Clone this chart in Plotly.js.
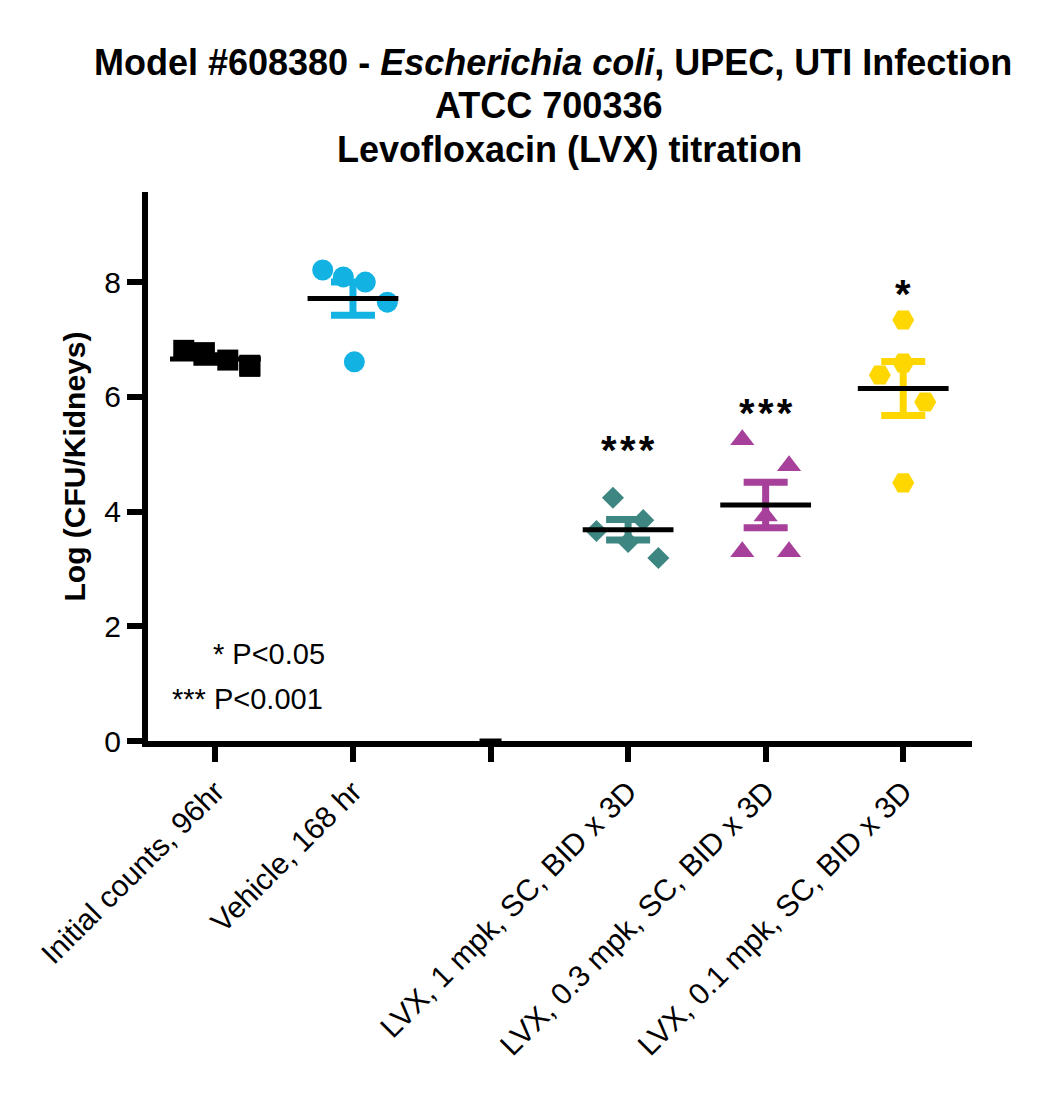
<!DOCTYPE html>
<html>
<head>
<meta charset="utf-8">
<script src="https://cdn.plot.ly/plotly-3.0.1.min.js"></script>
<style>
  html, body { margin: 0; padding: 0; background: #fff; }
  #chart { width: 1050px; height: 1093px; }
</style>
</head>
<body>
<div id="chart"></div>
<script>
// categories (index 2 is an empty gap group)
const categories = [
  'Initial counts, 96hr',
  'Vehicle, 168 hr',
  '',
  'LVX, 1 mpk, SC, BID x 3D',
  'LVX, 0.3 mpk, SC, BID x 3D',
  'LVX, 0.1 mpk, SC, BID x 3D'
];

// log CFU / kidneys per animal
const initialVals = [6.81, 6.77, 6.64, 6.55, 6.53];
const vehicleVals = [8.21, 8.09, 8.00, 7.65, 6.61];
const emptyVals   = [];
const lvx1Vals    = [4.24, 3.66, 3.85, 3.47, 3.19];
const lvx03Vals   = [5.25, 4.80, 3.92, 3.30, 3.30];
const lvx01Vals   = [7.34, 6.59, 6.38, 5.91, 4.50];

// horizontal scatter of points within each column (category units)
const jitterInitial = [-0.23, -0.08, 0.09, 0.25, 0.25];
const jitterVehicle = [-0.22, -0.07, 0.09, 0.25, 0.01];
const jitterLvx1    = [-0.11, -0.23, 0.11, 0.0, 0.22];
const jitterLvx03   = [-0.17, 0.17, 0.0, -0.17, 0.17];
const jitterLvx01   = [0.0, 0.0, -0.17, 0.16, 0.0];

// significance marks
const sigLabels = ['', '', '', '***', '***', '*'];
const sigY      = [null, null, null, 5.07, 5.72, 7.8];

const yTicks = [0, 2, 4, 6, 8];

const FONT = 'Arial, "Liberation Sans", Helvetica, sans-serif';

const groups = [
  { vals: initialVals, jit: jitterInitial, color: '#000000', symbol: 'square', size: 21 },
  { vals: vehicleVals, jit: jitterVehicle, color: '#12B2E3', symbol: 'circle', size: 21 },
  { vals: emptyVals,   jit: [],            color: '#000000', symbol: 'circle', size: 20 },
  { vals: lvx1Vals,    jit: jitterLvx1,    color: '#3E8681', symbol: 'diamond', size: 17 },
  { vals: lvx03Vals,   jit: jitterLvx03,   color: '#A6409B', symbol: 'triangle-up', size: 21 },
  { vals: lvx01Vals,   jit: jitterLvx01,   color: '#FFD700', symbol: 'hexagon2', size: 22 }
];

function mean(a) {
  if (!a.length) return 0;
  return a.reduce((s, v) => s + v, 0) / a.length;
}

function sem(a) {
  if (a.length < 2) return 0;
  const m = mean(a);
  const sd = Math.sqrt(a.reduce((s, v) => s + (v - m) * (v - m), 0) / (a.length - 1));
  return sd / Math.sqrt(a.length);
}

const traces = [];

// points
groups.forEach((g, i) => {
  if (!g.vals.length) return;
  traces.push({
    type: 'scatter',
    mode: 'markers',
    x: g.vals.map((v, k) => i + g.jit[k]),
    y: g.vals,
    marker: { symbol: g.symbol, size: g.size, color: g.color, line: { width: 0 } },
    hoverinfo: 'y',
    showlegend: false
  });
});

// SEM bars
groups.forEach((g, i) => {
  if (g.vals.length < 2) return;
  traces.push({
    type: 'scatter',
    mode: 'markers',
    x: [i],
    y: [mean(g.vals)],
    marker: { size: 1, color: 'rgba(0,0,0,0)' },
    error_y: { type: 'data', array: [sem(g.vals)], visible: true, color: g.color, thickness: 7, width: 22 },
    hoverinfo: 'skip',
    showlegend: false
  });
});

// mean lines
groups.forEach((g, i) => {
  const half = g.vals.length ? 0.33 : 0.08;
  const m = mean(g.vals);
  traces.push({
    type: 'scatter',
    mode: 'lines',
    x: [i - half, i + half],
    y: [m, m],
    line: { color: '#000', width: 5 },
    hoverinfo: 'skip',
    showlegend: false
  });
});

const annotations = [];

// title lines
const titleLines = [
  '<b>Model #608380 - <i>Escherichia coli</i>, UPEC, UTI Infection</b>',
  '<b>ATCC 700336</b>',
  '<b>Levofloxacin (LVX) titration</b>'
];
const titleX = [553, 548, 569];
const titleY = [63, 105, 150];
titleLines.forEach((t, k) => {
  annotations.push({
    text: t, xref: 'paper', yref: 'paper', showarrow: false,
    x: (titleX[k] - 148) / 824, y: 1 + (192 - titleY[k]) / 549,
    xanchor: 'center', yanchor: 'middle',
    font: { family: FONT, size: 36, color: '#000' }
  });
});

// significance stars
sigLabels.forEach((s, i) => {
  if (!s) return;
  annotations.push({
    text: '<b>' + s.split('').join('\u200A') + '</b>', x: i, y: sigY[i], xref: 'x', yref: 'y',
    showarrow: false, xanchor: 'center', yanchor: 'middle',
    font: { family: FONT, size: 40, color: '#000' }
  });
});

// p-value key
annotations.push({
  text: '* P<0.05', xref: 'paper', yref: 'paper', showarrow: false,
  x: (327 - 148) / 824, y: (741 - 654) / 549, xanchor: 'right', yanchor: 'middle',
  font: { family: FONT, size: 29, color: '#000' }
});
annotations.push({
  text: '*** P<0.001', xref: 'paper', yref: 'paper', showarrow: false,
  x: (325 - 148) / 824, y: (741 - 699) / 549, xanchor: 'right', yanchor: 'middle',
  font: { family: FONT, size: 29, color: '#000' }
});

const layout = {
  width: 1050,
  height: 1093,
  paper_bgcolor: '#fff',
  plot_bgcolor: '#fff',
  margin: { l: 148, r: 78, t: 192, b: 352 },
  font: { family: FONT, color: '#000' },
  showlegend: false,
  xaxis: {
    range: [-0.49, 5.5],
    tickmode: 'array',
    tickvals: categories.map((c, i) => i),
    ticktext: categories,
    tickangle: -45,
    tickfont: { family: FONT, size: 30, color: '#000' },
    ticks: 'outside',
    ticklen: 15,
    tickwidth: 6,
    tickcolor: '#000',
    showline: true,
    linewidth: 6,
    linecolor: '#000',
    showgrid: false,
    zeroline: false,
    automargin: false
  },
  yaxis: {
    range: [0, 9.57],
    tickmode: 'array',
    tickvals: yTicks,
    ticktext: yTicks.map(String),
    tickfont: { family: FONT, size: 30, color: '#000' },
    ticks: 'outside',
    ticklen: 15,
    tickwidth: 6,
    tickcolor: '#000',
    showline: true,
    linewidth: 6,
    linecolor: '#000',
    showgrid: false,
    zeroline: false,
    automargin: false,
    title: { text: '<b>Log (CFU/Kidneys)</b>', font: { family: FONT, size: 30, color: '#000' }, standoff: 12 }
  },
  annotations: annotations
};

Plotly.newPlot('chart', traces, layout, { displayModeBar: false, staticPlot: true });
</script>
</body>
</html>
